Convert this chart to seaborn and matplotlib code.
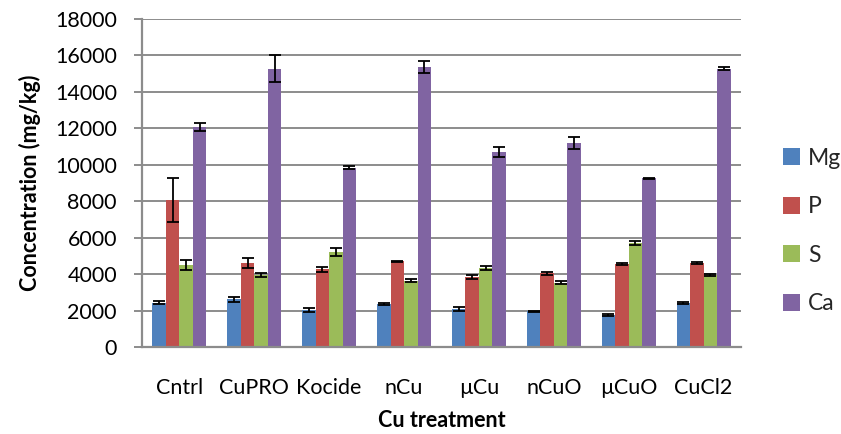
import matplotlib
matplotlib.use("Agg")
import matplotlib.pyplot as plt
import seaborn as sns
import pandas as pd
import numpy as np

treatments = ["Cntrl", "CuPRO", "Kocide", "nCu", "µCu", "nCuO", "µCuO", "CuCl2"]
elements = ["Mg", "P", "S", "Ca"]

mg = [2440, 2620, 2020, 2370, 2070, 1950, 1740, 2400]
p = [8070, 4620, 4260, 4700, 3850, 4040, 4570, 4590]
s = [4500, 3950, 5190, 3630, 4350, 3520, 5690, 3950]
ca = [12070, 15280, 9850, 15340, 10700, 11190, 9250, 15280]

mg_err = [80, 150, 100, 50, 100, 50, 50, 50]
p_err = [1190, 275, 120, 30, 100, 100, 60, 50]
s_err = [250, 120, 220, 80, 100, 80, 100, 80]
ca_err = [240, 730, 100, 330, 300, 350, 50, 80]

colors = ["#4F81BD", "#C0504D", "#9BBB59", "#8064A2"]

values = [mg, p, s, ca]
errs = [mg_err, p_err, s_err, ca_err]
rows = []
for el, vals, es in zip(elements, values, errs):
    for t, v, e in zip(treatments, vals, es):
        rows.append({"Treatment": t, "Element": el, "Value": v, "Err": e})
df = pd.DataFrame(rows)

sns.set_theme(style="white")
plt.rcParams["font.family"] = ["Lato", "DejaVu Sans"]

fig = plt.figure(figsize=(8.41, 4.34), dpi=100)
ax = fig.add_axes([142 / 841, 1 - 347 / 434, 599 / 841, 328 / 434])

sns.barplot(data=df, x="Treatment", y="Value", hue="Element", order=treatments,
            hue_order=elements, palette=colors, width=0.72, errorbar=None,
            saturation=1, linewidth=0, ax=ax)

# error bars from bar patches (ordered by hue then category)
bars = [b for b in ax.patches if b.get_height() > 0]
for i, el in enumerate(elements):
    for j, t in enumerate(treatments):
        b = bars[i * len(treatments) + j]
        xc = b.get_x() + b.get_width() / 2
        ax.errorbar(xc, values[i][j], yerr=errs[i][j], fmt="none",
                    ecolor="black", elinewidth=1.3, capsize=4.3, capthick=1.3, zorder=5)

ax.set_ylim(0, 18000)
ax.set_yticks(np.arange(0, 18001, 2000))
ax.set_xlim(-0.5, len(treatments) - 0.5)
ax.yaxis.grid(True, color="#8c8c8c", linewidth=1.4)
ax.set_axisbelow(True)
for side in ["top", "right"]:
    ax.spines[side].set_visible(False)
for side in ["left", "bottom"]:
    ax.spines[side].set_color("#8c8c8c")
    ax.spines[side].set_linewidth(1.6)

ax.tick_params(axis="y", length=6, width=1.4, color="#8c8c8c", labelsize=15.5, pad=12, left=True)
ax.tick_params(axis="x", length=0, labelsize=15.5, pad=22)
for lbl in ax.get_xticklabels() + ax.get_yticklabels():
    lbl.set_color("black")

ax.set_xlabel("Cu treatment", fontsize=15.5, fontweight="bold", labelpad=9, color="black")
ax.set_ylabel("Concentration (mg/kg)", fontsize=15.5, fontweight="bold", labelpad=10, color="black")

handles, labels = ax.get_legend_handles_labels()
ax.legend(handles, labels, loc="center left", bbox_to_anchor=(762 / 841, 1 - 231 / 434),
          bbox_transform=fig.transFigure, frameon=False, fontsize=16.5,
          handlelength=0.75, handleheight=0.75, handletextpad=0.35, labelspacing=1.2)

fig.savefig("out.png", dpi=100)
